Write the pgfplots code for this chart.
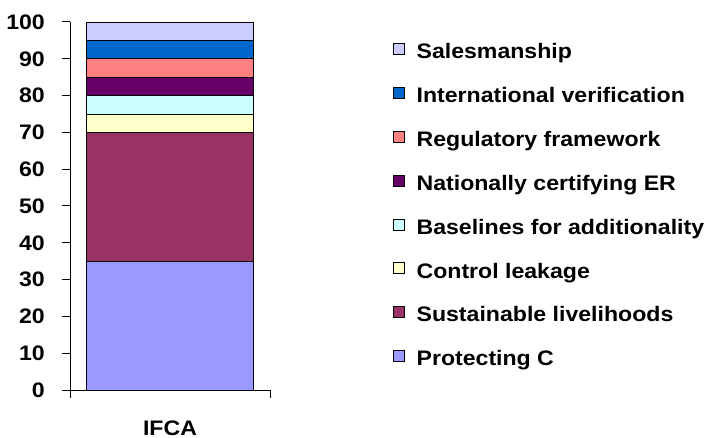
\documentclass[border=0pt]{standalone}
\usepackage{fontspec}
\setmainfont{Liberation Sans}[FakeStretch=1.1]
\usepackage{pgfplots}
\pgfplotsset{compat=1.18}
\definecolor{cProt}{HTML}{9999FF}
\definecolor{cSust}{HTML}{993366}
\definecolor{cLeak}{HTML}{FFFFCC}
\definecolor{cBase}{HTML}{CCFFFF}
\definecolor{cNat}{HTML}{660066}
\definecolor{cReg}{HTML}{FF8080}
\definecolor{cInt}{HTML}{0066CC}
\definecolor{cSales}{HTML}{CCCCFF}
\begin{document}
\begin{tikzpicture}[font=\bfseries\fontsize{21bp}{25bp}\selectfont]
\useasboundingbox (-70bp,-48bp) rectangle (636bp,390bp);
\begin{axis}[
  at={(0,0)}, anchor=south west,
  scale only axis, width=200bp, height=368bp,
  xmin=-0.6, xmax=0.6, ymin=0, ymax=100,
  clip=false,
  axis x line*=bottom, axis y line*=left,
  ybar stacked, bar width=1,
  xtick={-0.6,0.6}, xticklabels={},
  xlabel={IFCA},
  xlabel style={at={(axis description cs:0.5,0)}, anchor=base, inner sep=0pt, yshift=-45bp},
  ytick={0,10,...,100},
  tick align=outside,
  major tick length=8bp,
  yticklabel style={anchor=east, inner sep=0pt, xshift=-17bp},
  /pgf/number format/assume math mode=true,
  axis line style={black, line width=1bp},
  major tick style={draw=black, line width=1bp},
  reverse legend,
  legend style={draw=none, fill=none, inner sep=0pt, outer sep=0pt,
    at={(rel axis cs:1.615,0.943)}, anchor=north west,
    row sep=28.3bp, column sep=12bp,
    nodes={inner sep=0pt, text height=15bp, text depth=0pt, anchor=base west},
    cells={anchor=base west}},
  legend image code/.code={\draw[#1,draw=black,line width=0.6bp] (0bp,4.3bp) rectangle (11bp,15.3bp);},
]
\addplot[fill=cProt, draw=black, line width=0.8bp] coordinates {(0,35)};
\addplot[fill=cSust, draw=black, line width=0.8bp] coordinates {(0,35)};
\addplot[fill=cLeak, draw=black, line width=0.8bp] coordinates {(0,5)};
\addplot[fill=cBase, draw=black, line width=0.8bp] coordinates {(0,5)};
\addplot[fill=cNat, draw=black, line width=0.8bp] coordinates {(0,5)};
\addplot[fill=cReg, draw=black, line width=0.8bp] coordinates {(0,5)};
\addplot[fill=cInt, draw=black, line width=0.8bp] coordinates {(0,5)};
\addplot[fill=cSales, draw=black, line width=0.8bp] coordinates {(0,5)};
\legend{Protecting C, Sustainable livelihoods, Control leakage, Baselines for additionality, Nationally certifying ER, Regulatory framework, International verification, Salesmanship}
\pgfplotsinvokeforeach{0,10,20,30,40,50,60,70,80,90,100}{
  \draw[black, line width=1bp] (axis cs:-0.6,#1) -- ++(-8bp,0pt);
}
\end{axis}
\end{tikzpicture}
\end{document}
